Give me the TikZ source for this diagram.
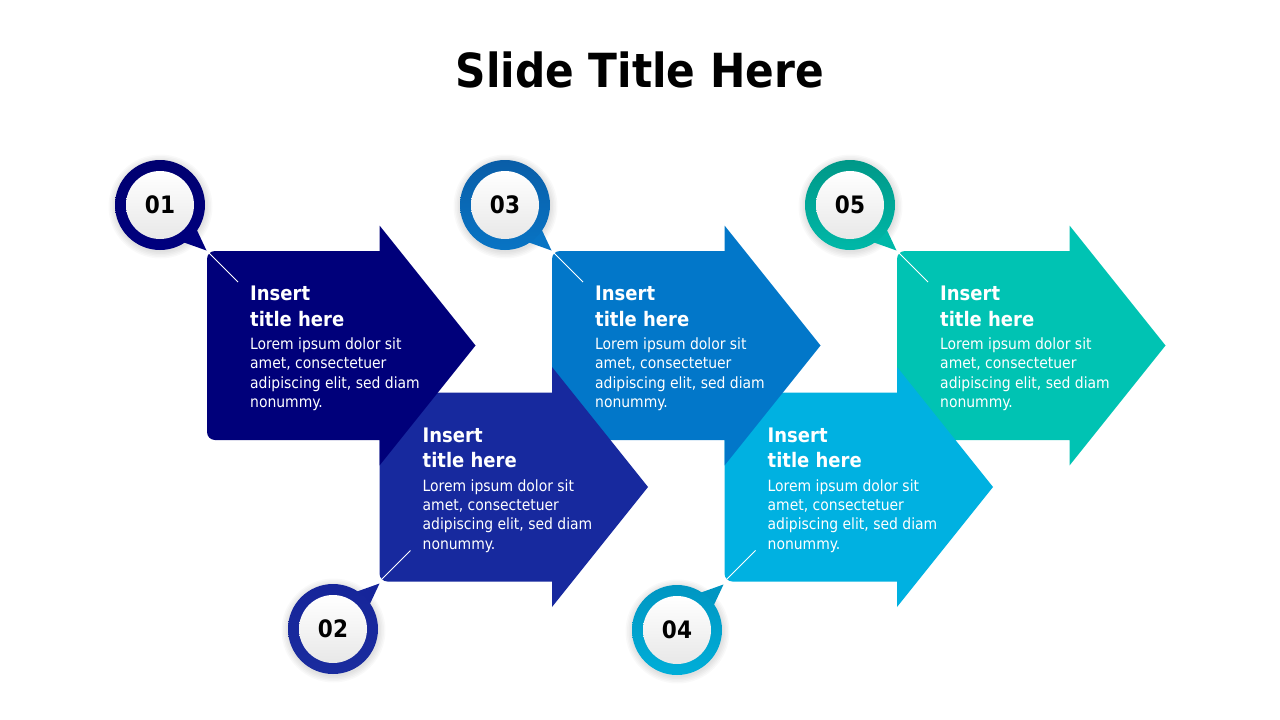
\documentclass[tikz,border=0pt]{standalone}
\usepackage{fontspec}
\setmainfont{DejaVu Sans Condensed}
\definecolor{ar1}{HTML}{00007A}
\definecolor{ar2}{HTML}{17299E}
\definecolor{ar3}{HTML}{0277C9}
\definecolor{ar4}{HTML}{00B1E1}
\definecolor{ar5}{HTML}{00C3B3}
\definecolor{rt1}{HTML}{000070}\definecolor{rb1}{HTML}{00007E}
\definecolor{rt2}{HTML}{16259A}\definecolor{rb2}{HTML}{1A2C9E}
\definecolor{rt3}{HTML}{0A5EA8}\definecolor{rb3}{HTML}{0874C4}
\definecolor{rt4}{HTML}{0096C2}\definecolor{rb4}{HTML}{00AED8}
\definecolor{rt5}{HTML}{009888}\definecolor{rb5}{HTML}{00B8A8}
\tikzset{
  ttl/.style={anchor=north west, inner sep=0pt, align=left, text=white,
    font=\fontsize{20}{25.5}\selectfont\bfseries},
  bdy/.style={anchor=north west, inner sep=0pt, align=left, text=white,
    font=\fontsize{15.5}{19.3}\selectfont},
  numtxt/.style={inner sep=0pt, text=black, font=\fontsize{24}{28}\selectfont\bfseries},
  softshadow/.style={fill=black, fill opacity=0.025},
  sline/.style={draw=white, line width=1pt}
}
% #1 name, #2 left x, #3 centre y, #4 colour, #5 pin side (-1 top, 1 bottom)
\newcommand\myArrow[5]{%
  \fill[#4] (#2+80,#3-94.5) [rounded corners=8] -- (#2,#3-94.5) -- (#2,#3+94.5)
    -- (#2+80,#3+94.5) [sharp corners] -- (#2+172.5,#3+94.5) -- (#2+172.5,#3+120)
    -- (#2+268.5,#3) -- (#2+172.5,#3-120) -- (#2+172.5,#3-94.5) -- cycle;
  \draw[sline] (#2+2,{#3+(#5)*92.5}) -- (#2+31,{#3+(#5)*63.5});
  \node[ttl] (t#1) at (#2+43,#3-59.4) {Insert\\title here};
  \node[bdy] (b#1) at (#2+43,#3-7.8) {Lorem ipsum dolor sit\\amet, consectetuer\\adipiscing elit, sed diam\\nonummy.};
}
% #1 name, #2 cx, #3 cy, #4 dir (1 tail down, -1 tail up), #5 top col, #6 bottom col, #7 tail col, #8 label
\newcommand\myPin[8]{%
  \foreach \r in {46,47.5,49,50.5,52} {\path[softshadow] (#2+0.5,#3+1.5) circle (\r);}
  \fill[#7] (#2+35.6,{#3+(#4)*22.3}) -- (#2+46.5,{#3+(#4)*45.5}) -- (#2+21,{#3+(#4)*36.4}) -- cycle;
  \shade[top color=#5, bottom color=#6] (#2,#3) circle (45);
  \shade[top color=white, bottom color=black!9] (#2,#3) circle (34);
  \node[numtxt] (#1) at (#2,#3) {#8};
}
\begin{document}
\begin{tikzpicture}[x=1pt,y=-1pt]
\fill[white] (0,0) rectangle (1280,720);
\useasboundingbox (0,0) rectangle (1280,720);
\node[anchor=base, inner sep=0pt, font=\fontsize{47}{56}\selectfont\bfseries] (title) at (640,87) {Slide Title Here};
\myArrow{5}{897}{345.5}{ar5}{-1}
\myArrow{4}{724.5}{487}{ar4}{1}
\myArrow{3}{552}{345.5}{ar3}{-1}
\myArrow{2}{379.5}{487}{ar2}{1}
\myArrow{1}{207}{345.5}{ar1}{-1}
\myPin{p1}{160}{205}{1}{rt1}{rb1}{rb1}{01}
\myPin{p2}{333}{629}{-1}{rt2}{rb2}{rt2}{02}
\myPin{p3}{505}{205}{1}{rt3}{rb3}{rb3}{03}
\myPin{p4}{677}{630}{-1}{rt4}{rb4}{rt4}{04}
\myPin{p5}{850}{205}{1}{rt5}{rb5}{rb5}{05}
\end{tikzpicture}
\end{document}
